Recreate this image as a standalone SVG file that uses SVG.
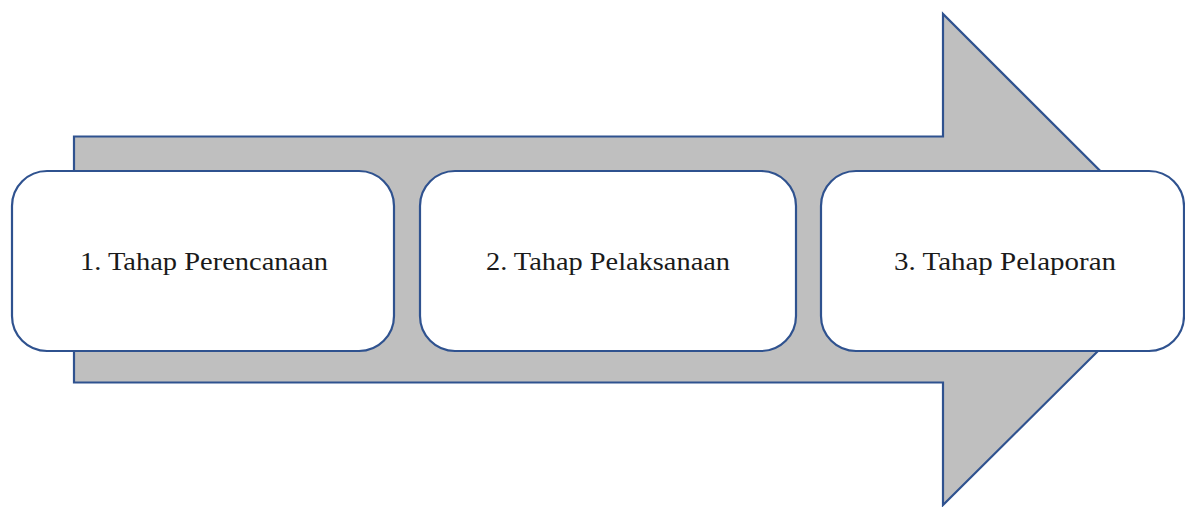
<svg xmlns="http://www.w3.org/2000/svg" width="1185" height="507" viewBox="0 0 1185 507">
<style>
.arrow{fill:#BFBFBF;stroke:#2F528F;stroke-width:2.2;stroke-linejoin:miter}
.box{fill:#FFFFFF;stroke:#2F528F;stroke-width:2.2}
.lbl{font-family:'Liberation Serif','Times New Roman','DejaVu Serif',serif;font-size:25px;fill:#1a1a1a;text-anchor:middle}
</style>
<g id="connectors">
<path class="arrow" d="M74,136.5 H943 V14 L1189.5,260 L943,505 V382.5 H74 Z"/>
</g>
<g id="node1">
<rect class="box" x="12" y="171" width="382" height="180" rx="35" ry="35"/>
<text class="lbl" x="204" y="270" textLength="248" lengthAdjust="spacingAndGlyphs">1. Tahap Perencanaan</text>
</g>
<g id="node2">
<rect class="box" x="420" y="171" width="376" height="180" rx="35" ry="35"/>
<text class="lbl" x="608" y="270" textLength="244" lengthAdjust="spacingAndGlyphs">2. Tahap Pelaksanaan</text>
</g>
<g id="node3">
<rect class="box" x="821" y="171" width="363" height="180" rx="35" ry="35"/>
<text class="lbl" x="1005" y="270" textLength="222" lengthAdjust="spacingAndGlyphs">3. Tahap Pelaporan</text>
</g>
</svg>
